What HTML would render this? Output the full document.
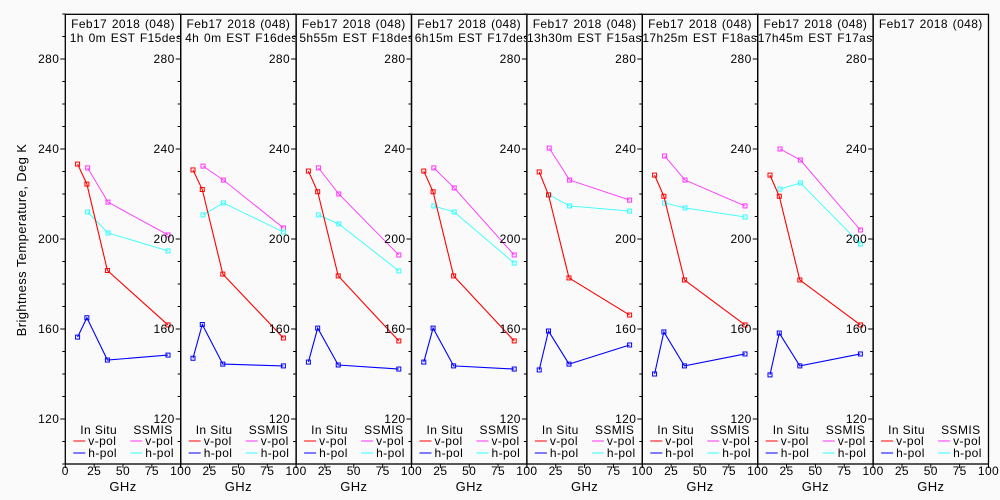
<!DOCTYPE html>
<html><head><meta charset="utf-8"><style>
html,body{margin:0;padding:0;background:#fafafa;}
svg{display:block;font-family:"Liberation Sans",sans-serif;}
text{letter-spacing:0.4px;}
.hdr{letter-spacing:0.4px;word-spacing:1px;}
</style></head><body>
<svg id="chart" width="1000" height="500" viewBox="0 0 1000 500" xmlns="http://www.w3.org/2000/svg">
<rect width="1000" height="500" fill="#fafafa"/>
<defs id="defs"></defs>
<text transform="translate(26,240) rotate(-90)" text-anchor="middle" font-size="13" fill="#000">Brightness Temperature, Deg K</text>
<g id="panels"></g>
</svg>
<script>
const titles=["1h 0m  EST F15des","4h 0m  EST F16des","5h55m  EST F18des","6h15m  EST F17des","13h30m  EST F15asc","17h25m  EST F18asc","17h45m  EST F17asc",""];
const insituFreq=[10.65,18.7,36.5,89];
const ssmisFreq=[19.35,37,89];
const vpolInsitu=[[233.3,224.4,186,161.8],[230.7,222,184.4,156],[230.2,221,183.6,154.7],[230.2,221,183.6,154.7],[229.8,219.6,182.7,166.2],[228.4,219,181.8,161.8],[228.4,219,181.8,161.8],[]];
const hpolInsitu=[[156.4,165,146.2,148.4],[147,162,144.4,143.6],[145.3,160.4,144,142.2],[145.3,160.4,143.6,142.2],[141.8,159.1,144.4,152.9],[140,158.7,143.6,148.9],[139.6,158.2,143.6,148.9],[]];
const vpolSsmis=[[231.6,216.4,201.8],[232.4,226.2,204.9],[231.6,220,192.9],[231.6,222.7,192.9],[240.4,226.2,217.3],[236.9,226.2,214.7],[240,235.1,204],[]];
const hpolSsmis=[[212,202.7,194.7],[210.7,216,203.1],[210.7,206.7,185.8],[214.7,212,189.3],[219.6,214.7,212.4],[216,213.8,209.8],[222.2,224.9,197.8],[]];
const yTicks=[120,160,200,240,280];
const xTicks=[0,25,50,75,100];

const NS="http://www.w3.org/2000/svg";
const g=document.getElementById('panels');
const defs=document.getElementById('defs');
const L0=65.3,PW=115.4,TOP=14.3,BOT=464;
const yS=v=>149+(240-v)*2.25;
function mk(t,a,p){const e=document.createElementNS(NS,t);for(const k in a)e.setAttribute(k,a[k]);(p||g).appendChild(e);return e;}
function tx(x,y,s,anchor,size,p){const e=mk('text',{x:x,y:y,'text-anchor':anchor||'start','font-size':size||12,fill:'#000'},p);e.textContent=s;return e;}
for(let k=0;k<8;k++){
  const pg=mk('g',{});
  
  
  const L=L0+PW*k,R=L+PW;
  const xS=f=>L+f*PW/100;
  const cp=mk('clipPath',{id:'clip'+k},defs);
  mk('rect',{x:L+1,y:TOP,width:PW-2,height:60},cp);
  const fr=mk('rect',{x:L,y:TOP,width:PW,height:BOT-TOP,fill:'none',stroke:'#000','stroke-width':1.3},pg);
  
  
  const hg=mk('g',{'clip-path':'url(#clip'+k+')'},pg);
  const t1=tx(L+PW/2,28,'Feb17 2018 (048)','middle',12,hg);
  t1.setAttribute('class','hdr');
  
  
  if(titles[k]){const t2=tx(L+PW/2+3,42,titles[k],'middle',12,hg);
  t2.setAttribute('class','hdr');
  
  }
  for(let v=100;v<=300;v+=10){const maj=v%40===0;mk('line',{x1:L-(maj?5:3),x2:L,y1:yS(v),y2:yS(v),stroke:'#000'},pg);}
  yTicks.forEach(v=>{const e=tx(L-6,yS(v)+4,String(v),'end',12,pg);
    
    });
  xTicks.forEach(f=>{mk('line',{x1:xS(f),x2:xS(f),y1:BOT,y2:BOT+4,stroke:'#000'},pg);
    if(f===0&&k>0)return;
    const e=tx(xS(f),475,String(f),'middle',12,pg);
    
    });
  const gx=tx(L+PW/2,491,'GHz','middle',13,pg);
  
  
  function series(fq,vals,col,name,w){
    if(!vals.length)return;
    const pts=vals.map((v,i)=>xS(fq[i])+','+yS(v)).join(' ');
    const pl=mk('polyline',{points:pts,fill:'none',stroke:col,'stroke-width':w},pg);
    
    
    vals.forEach((v,i)=>{const r=mk('rect',{x:xS(fq[i])-2,y:yS(v)-2,width:4,height:4,fill:'none',stroke:col,'stroke-width':1},pg);
      
      });
  }
  series(ssmisFreq,vpolSsmis[k],'#ff33ff','ssmis-vpol',0.9);
  series(ssmisFreq,hpolSsmis[k],'#33ffff','ssmis-hpol',0.9);
  series(insituFreq,vpolInsitu[k],'#ff0000','insitu-vpol',1.1);
  series(insituFreq,hpolInsitu[k],'#0000ff','insitu-hpol',1.1);
  const lg=mk('g',{},pg);
  
  
  tx(L+15,434,'In Situ','start',12,lg);
  tx(R-8,434,'SSMIS','end',12,lg);
  [['#ff0000','v-pol',445],['#0000ff','h-pol',457]].forEach(a=>{mk('line',{x1:L+8,x2:L+20,y1:a[2]-4,y2:a[2]-4,stroke:a[0]},lg);tx(L+23,a[2],a[1],'start',12,lg);});
  [['#ff33ff','v-pol',445],['#33ffff','h-pol',457]].forEach(a=>{mk('line',{x1:L+65,x2:L+77,y1:a[2]-4,y2:a[2]-4,stroke:a[0]},lg);tx(L+80,a[2],a[1],'start',12,lg);});
}
</script>
</body></html>
